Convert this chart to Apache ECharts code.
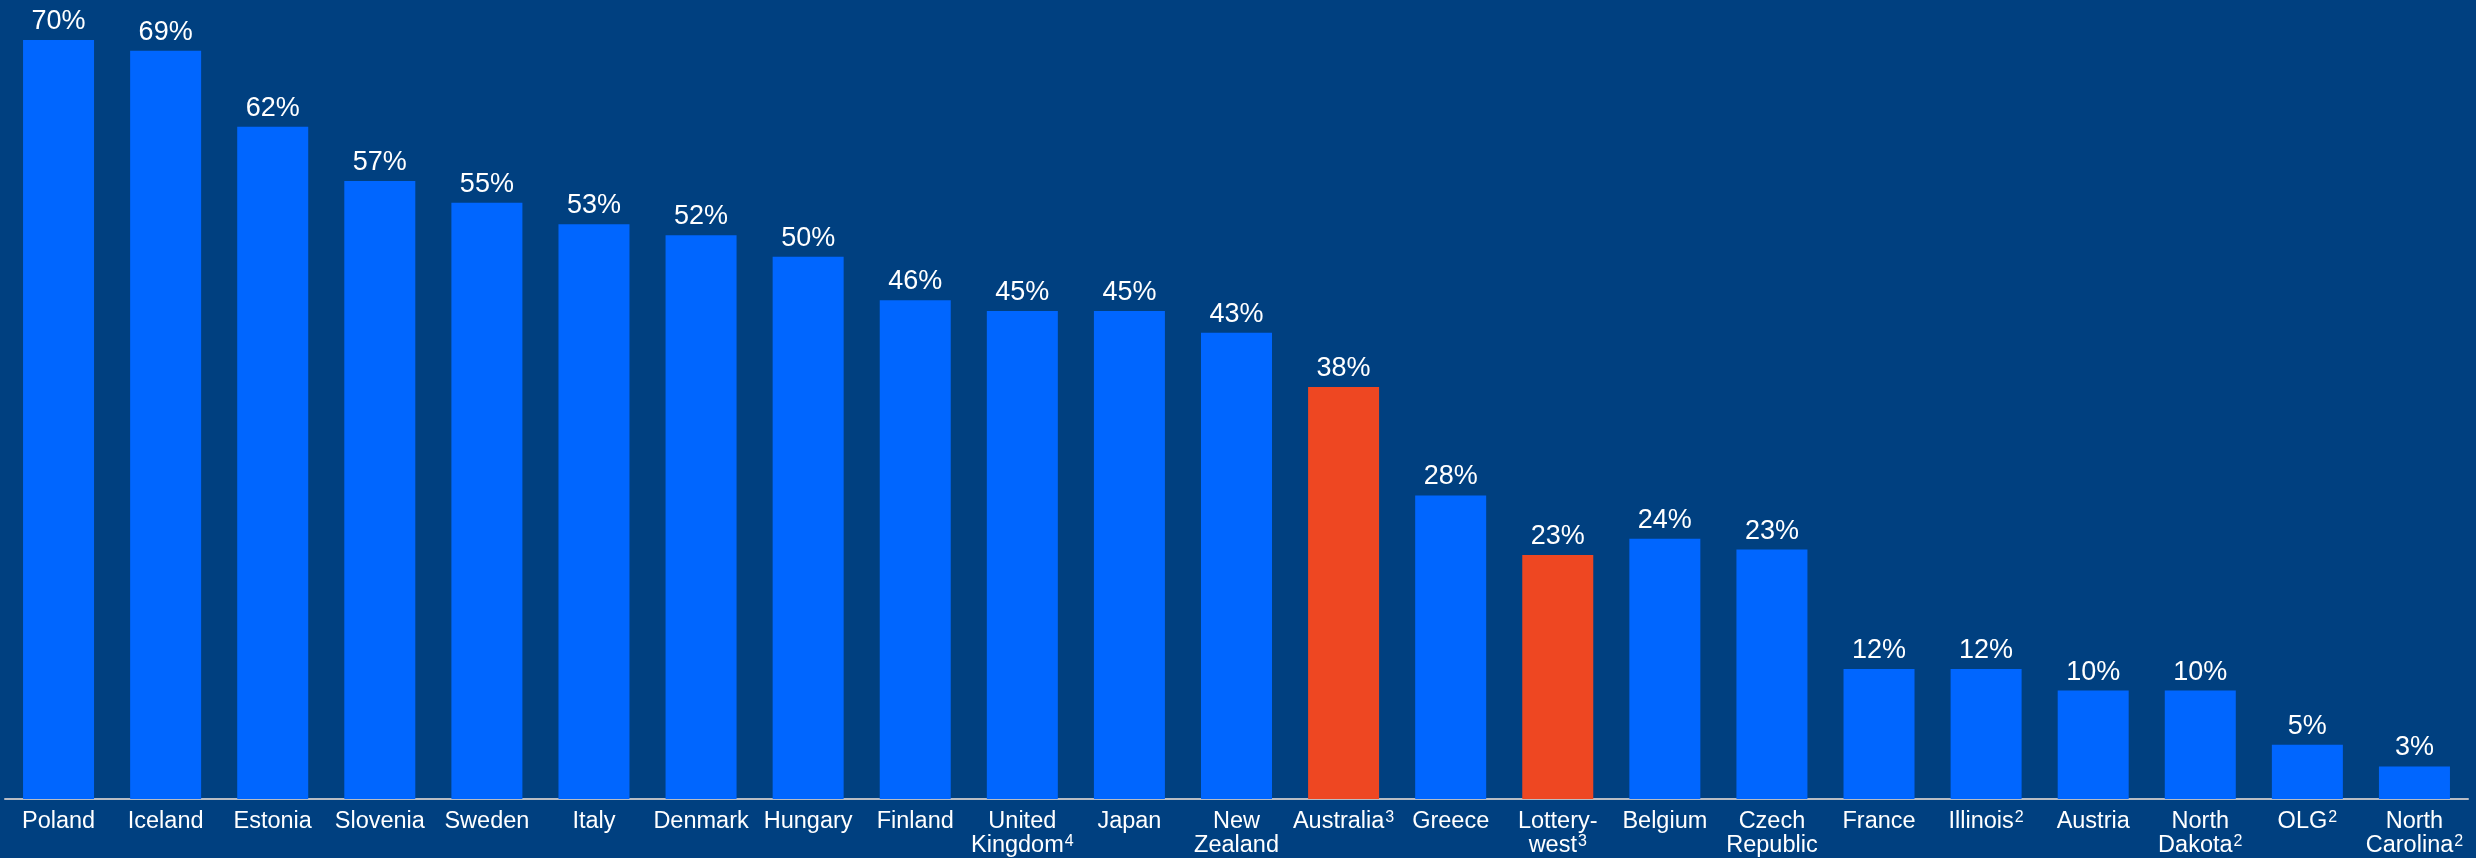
<!DOCTYPE html>
<html>
<head>
<meta charset="utf-8">
<style>
  html, body { margin: 0; padding: 0; background: #004080; }
  #chart { width: 2476px; height: 858px; }
</style>
<script src="https://cdn.jsdelivr.net/npm/echarts@6/dist/echarts.min.js"></script>
</head>
<body>
<div id="chart"></div>
<script>
// categories, as they break on the axis
var countries = [
  'Poland', 'Iceland', 'Estonia', 'Slovenia', 'Sweden', 'Italy', 'Denmark', 'Hungary',
  'Finland', 'United\nKingdom', 'Japan', 'New\nZealand', 'Australia', 'Greece',
  'Lottery-\nwest', 'Belgium', 'Czech\nRepublic', 'France', 'Illinois', 'Austria',
  'North\nDakota', 'OLG', 'North\nCarolina'
]
// footnote marks shown after the name ('' = none)
var footnotes = [
  '', '', '', '', '', '', '', '',
  '', '4', '', '', '3', '',
  '3', '', '', '', '2', '',
  '2', '2', '2'
]
// share in percent
var shares = [
  70, 69, 62, 57, 55, 53, 52, 50,
  46, 45, 45, 43, 38, 28,
  22.5, 24, 23, 12, 12, 10,
  10, 5, 3
]
// bars drawn in the accent colour
var highlighted = ['Australia', 'Lottery-\nwest']

var myChart = echarts.init(document.getElementById('chart'), null, { renderer: 'canvas' })

var barData = shares.map(function(v, i) {
  var hot = highlighted.indexOf(countries[i]) >= 0
  return {
    value: v,
    itemStyle: { color: hot ? '#EE4722' : '#0066FF' }
  }
})

var option = {
  backgroundColor: '#004080',
  animation: false,
  textStyle: { fontFamily: 'Liberation Sans, Arial, sans-serif' },
  grid: {
    left: 5,
    right: 8,
    top: 40,
    bottom: 59,
    containLabel: false
  },
  xAxis: {
    type: 'category',
    data: countries,
    axisTick: { show: false },
    axisLine: {
      show: true,
      lineStyle: { color: '#B8BCC4', width: 2 }
    },
    axisLabel: {
      interval: 0,
      margin: 11,
      color: '#FFFFFF',
      fontSize: 23.5,
      lineHeight: 24,
      formatter: function(value, idx) {
        var lines = value.split('\n')
        var fn = footnotes[idx]
        return lines.map(function(l, k) {
          var s = '{a|' + l + '}'
          if (k === lines.length - 1 && fn) {
            s += '{sup|' + fn + '}'
          }
          return s
        }).join('\n')
      },
      rich: {
        a: {
          color: '#FFFFFF',
          fontSize: 23.5,
          lineHeight: 24,
          fontFamily: 'Liberation Sans, Arial, sans-serif'
        },
        sup: {
          color: '#FFFFFF',
          fontSize: 16,
          lineHeight: 16,
          verticalAlign: 'top',
          padding: [0, 0, 0, 1],
          fontFamily: 'Liberation Sans, Arial, sans-serif'
        }
      }
    }
  },
  yAxis: {
    type: 'value',
    min: 0,
    max: 70,
    show: false,
    splitLine: { show: false }
  },
  series: [
    {
      type: 'bar',
      data: barData,
      barWidth: 71,
      label: {
        show: true,
        position: 'top',
        distance: 5,
        color: '#FFFFFF',
        fontSize: 27,
        fontFamily: 'Liberation Sans, Arial, sans-serif',
        formatter: function(p) {
          return Math.round(p.value) + '%'
        }
      }
    }
  ]
}

option && myChart.setOption(option)
</script>
</body>
</html>
